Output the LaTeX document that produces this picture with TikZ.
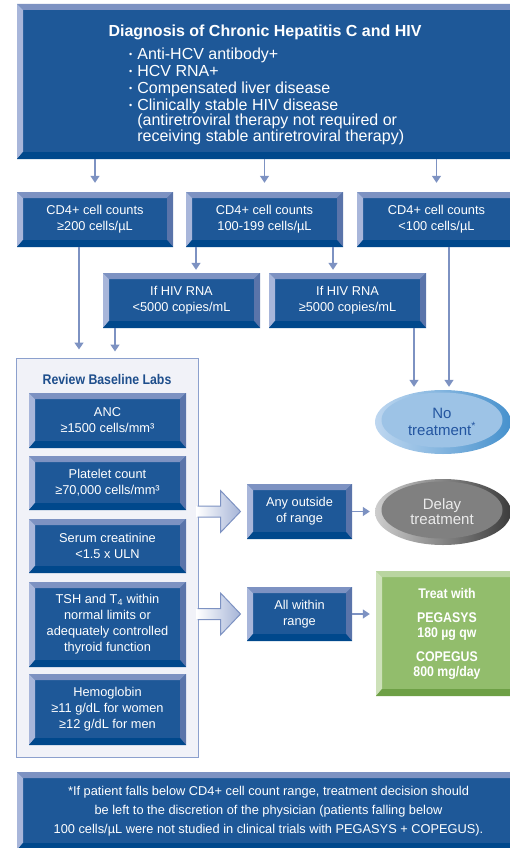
\documentclass[tikz,border=0pt]{standalone}
\usepackage{fontspec}
\setmainfont{Liberation Sans}
\newfontfamily\condb[FakeStretch=0.88]{Liberation Sans}
\usetikzlibrary{arrows.meta,shapes.geometric,calc}
\definecolor{boxblue}{RGB}{30,88,152}
\definecolor{bevT}{RGB}{125,146,194}
\definecolor{bevL}{RGB}{168,182,218}
\definecolor{bevR}{RGB}{90,116,170}
\definecolor{bevB}{RGB}{0,72,140}
\definecolor{arrowcol}{RGB}{125,146,194}
\definecolor{afill}{RGB}{165,180,215}
\definecolor{revfill}{RGB}{241,242,248}
\definecolor{revborder}{RGB}{140,160,205}
\definecolor{titleblue}{RGB}{30,78,140}
\definecolor{gfill}{RGB}{146,189,108}
\definecolor{gT}{RGB}{185,213,160}
\definecolor{gL}{RGB}{205,225,185}
\definecolor{gR}{RGB}{120,170,85}
\definecolor{gB}{RGB}{110,160,70}
\definecolor{ntL}{RGB}{190,215,240}
\definecolor{ntR}{RGB}{70,145,205}
\definecolor{ntIn}{RGB}{157,195,230}
\definecolor{ntText}{RGB}{35,85,160}
\definecolor{dlL}{RGB}{205,205,205}
\definecolor{dlR}{RGB}{60,60,60}
\definecolor{dlIn}{RGB}{128,128,128}
\definecolor{dlText}{RGB}{235,235,235}
\newcommand\mybevels[4]{%
 \fill[#1] (path picture bounding box.north west) -- (path picture bounding box.north east) -- ([shift={(-6pt,-6pt)}]path picture bounding box.north east) -- ([shift={(6pt,-6pt)}]path picture bounding box.north west) -- cycle;
 \fill[#2] (path picture bounding box.north west) -- ([shift={(6pt,-6pt)}]path picture bounding box.north west) -- ([shift={(6pt,7pt)}]path picture bounding box.south west) -- (path picture bounding box.south west) -- cycle;
 \fill[#3] (path picture bounding box.north east) -- ([shift={(-6pt,-6pt)}]path picture bounding box.north east) -- ([shift={(-6pt,7pt)}]path picture bounding box.south east) -- (path picture bounding box.south east) -- cycle;
 \fill[#4] (path picture bounding box.south west) -- (path picture bounding box.south east) -- ([shift={(-6pt,7pt)}]path picture bounding box.south east) -- ([shift={(6pt,7pt)}]path picture bounding box.south west) -- cycle;
}
\newcommand\boxfont{\fontsize{12.8}{16}\selectfont}
\newcommand\greenfont{\condb\bfseries\fontsize{14}{15}\selectfont}
\begin{document}
\begin{tikzpicture}[x=1pt,y=-1pt,
  bev/.style={rectangle, fill=boxblue, text=white, inner sep=0pt, align=center, font=\boxfont, path picture={\mybevels{bevT}{bevL}{bevR}{bevB}}},
  gbev/.style={rectangle, fill=gfill, text=white, inner sep=0pt, align=center, font=\greenfont, path picture={\mybevels{gT}{gL}{gR}{gB}}},
  arr/.style={draw=arrowcol, line width=1.5pt, -{Triangle[width=9pt,length=7pt]}},
  blk/.style={draw=arrowcol, line width=1pt, line join=miter},
  ell/.style={ellipse, inner sep=0pt},
]
\useasboundingbox (0,0) rectangle (509,848);
% top box
\node[bev, minimum width=503pt, minimum height=155pt] (top) at (268.5,81.5) {};
\node[text=white, font=\bfseries\fontsize{16}{18}\selectfont] (title) at (265,32) {Diagnosis of Chronic Hepatitis C and HIV};
\node[text=white, anchor=base west, inner sep=0pt, font=\fontsize{16}{17}\selectfont] (bullets) at (129,59.5)
 {\begin{tabular}[t]{@{}l@{\hspace{5pt}}l@{}}
  {\fontsize{9}{9}\selectfont\raisebox{1.5pt}{•}} & Anti-HCV antibody+\\
  {\fontsize{9}{9}\selectfont\raisebox{1.5pt}{•}} & HCV RNA+\\
  {\fontsize{9}{9}\selectfont\raisebox{1.5pt}{•}} & Compensated liver disease\\
  {\fontsize{9}{9}\selectfont\raisebox{1.5pt}{•}} & Clinically stable HIV disease\\[-1.5pt]
   & (antiretroviral therapy not required or\\[-1.5pt]
   & receiving stable antiretroviral therapy)
 \end{tabular}};
% CD4 boxes
\node[bev, minimum width=156pt, minimum height=55pt] (cd1) at (95,219.5) {CD4+ cell counts\\≥200 cells/µL};
\node[bev, minimum width=157pt, minimum height=55pt] (cd2) at (264.5,219.5) {CD4+ cell counts\\100-199 cells/µL};
\node[bev, minimum width=159pt, minimum height=55pt] (cd3) at (436.5,219.5) {CD4+ cell counts\\<100 cells/µL};
% HIV RNA boxes
\node[bev, minimum width=157pt, minimum height=55pt] (hivA) at (181.5,300.5) {If HIV RNA\\<5000 copies/mL};
\node[bev, minimum width=157pt, minimum height=55pt] (hivB) at (347.5,300.5) {If HIV RNA\\≥5000 copies/mL};
% review box
\node[draw=revborder, fill=revfill, line width=1pt, minimum width=182pt, minimum height=399pt] (review) at (107,557.5) {};
\node[text=titleblue, font=\condb\bfseries\fontsize{14}{15}\selectfont] (revtitle) at (107,379) {Review Baseline Labs};
\node[bev, minimum width=157pt, minimum height=55pt] (anc) at (107.5,420.5) {ANC\\≥1500 cells/mm³};
\node[bev, minimum width=157pt, minimum height=54pt] (plt) at (107.5,483) {Platelet count\\≥70,000 cells/mm³};
\node[bev, minimum width=157pt, minimum height=54pt] (ser) at (107.5,546) {Serum creatinine\\<1.5 x ULN};
\node[bev, minimum width=157pt, minimum height=85pt] (tsh) at (107.5,624.5) {TSH and T\textsubscript{4} within\\normal limits or\\adequately controlled\\thyroid function};
\node[bev, minimum width=157pt, minimum height=71pt] (hgb) at (107.5,709.5) {Hemoglobin\\≥11 g/dL for women\\≥12 g/dL for men};
% decision boxes
\node[bev, minimum width=105pt, minimum height=55pt] (anyout) at (299.5,511.5) {Any outside\\of range};
\node[bev, minimum width=105pt, minimum height=54pt] (allin) at (299.5,614) {All within\\range};
% ellipses
\node[ell, minimum width=136pt, minimum height=64pt, left color=ntL, right color=ntR] (notx) at (443,422) {};
\node[ell, minimum width=121pt, minimum height=55pt, fill=ntIn] (notxin) at (442,420) {};
\node[text=ntText, align=center, font=\fontsize{15}{17}\selectfont] (notxt) at (442,421.5) {No\\treatment\textsuperscript{*}};
\node[ell, minimum width=136pt, minimum height=66pt, left color=dlL, right color=dlR] (delay) at (443,512) {};
\node[ell, minimum width=121pt, minimum height=57pt, fill=dlIn] (delayin) at (442,510) {};
\node[text=dlText, align=center, font=\fontsize{15}{15}\selectfont] (delayt) at (442,512) {Delay\\treatment};
% treat box
\node[gbev, minimum width=142pt, minimum height=125pt] (treat) at (447,633.5) {Treat with\\[9pt]PEGASYS\\180 µg qw\\[9pt]COPEGUS\\800 mg/day};
% footnote
\node[bev, minimum width=503pt, minimum height=78pt, font=\fontsize{12.8}{19}\selectfont] (foot) at (268.5,811) {*If patient falls below CD4+ cell count range, treatment decision should\\be left to the discretion of the physician (patients falling below\\100 cells/µL were not studied in clinical trials with PEGASYS + COPEGUS).};
% connectors
\draw[arr, shorten >=9pt] (top.south -| cd1.north) -- (cd1.north);
\draw[arr, shorten >=9pt] (top.south -| cd2.north) -- (cd2.north);
\draw[arr, shorten >=9pt] (top.south -| cd3.north) -- (cd3.north);
\coordinate (c1) at ([xshift=-16pt]cd1.south);
\draw[arr, shorten >=8pt] (c1) -- (c1 |- review.north);
\coordinate (c2) at ([xshift=14.5pt]hivA.north);
\draw[arr, shorten >=3pt] (c2 |- cd2.south) -- (c2);
\coordinate (c3) at ([xshift=-14.5pt]hivB.north);
\draw[arr, shorten >=3pt] (c3 |- cd2.south) -- (c3);
\coordinate (c4) at ([xshift=-66.5pt]hivA.south);
\draw[arr, shorten >=6pt] (c4) -- (c4 |- review.north);
\coordinate (c5) at ([xshift=66.5pt]hivB.south);
\draw[arr, shorten >=3pt] (c5) -- (c5 |- notx.north);
\coordinate (c6) at ([xshift=12.5pt]cd3.south);
\draw[arr, shorten >=3pt] (c6) -- (c6 |- notx.north);
\draw[arr, shorten >=5pt] (anyout.east) -- (anyout.east -| delay.west);
\draw[arr, shorten >=6pt] (allin.east) -- (allin.east -| treat.west);
% block arrows
\coordinate (s1) at (review.east |- anyout.west);
\coordinate (s2) at (review.east |- allin.west);
\foreach \s in {s1,s2}{
  \shade[left color=white, right color=afill] ($(\s)+(-2,-5.5)$) -- ($(\s)+(22,-5.5)$) -- ($(\s)+(22,-21)$) -- ($(\s)+(42,0)$) -- ($(\s)+(22,21)$) -- ($(\s)+(22,5.5)$) -- ($(\s)+(-2,5.5)$) -- cycle;
  \draw[blk] ($(\s)+(-1,-5.5)$) -- ($(\s)+(22,-5.5)$) -- ($(\s)+(22,-21)$) -- ($(\s)+(42,0)$) -- ($(\s)+(22,21)$) -- ($(\s)+(22,5.5)$) -- ($(\s)+(-1,5.5)$);
}
\end{tikzpicture}
\end{document}
